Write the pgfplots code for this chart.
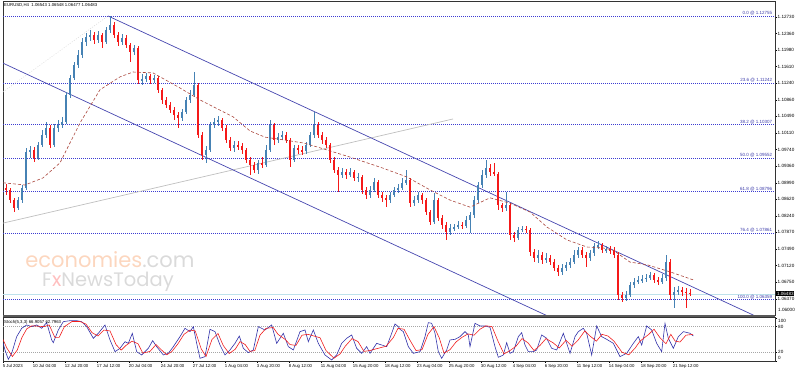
\documentclass[border=0pt]{standalone}
\usepackage{pgfplots}
\pgfplotsset{compat=1.18}
\usepackage{pgfplotstable}
\usepackage{fontspec}
\setmainfont{Liberation Sans}
\newfontfamily\wmfont{Poppins}
\definecolor{upc}{RGB}{70,130,180}
\definecolor{dnc}{RGB}{245,25,25}
\definecolor{chan}{RGB}{70,70,175}
\definecolor{fibc}{RGB}{60,60,210}
\definecolor{fibt}{RGB}{60,60,170}
\definecolor{mac}{RGB}{170,70,60}
\definecolor{bidc}{RGB}{190,225,235}
\definecolor{stk}{RGB}{50,50,170}
\definecolor{std}{RGB}{240,30,30}
\definecolor{wmo}{RGB}{252,214,190}
\definecolor{wmg}{RGB}{218,218,218}

\pgfplotstableread{
k o h l c
0 1.08985 1.09030 1.08783 1.08872
1 1.08872 1.08963 1.08715 1.08828
2 1.08828 1.08872 1.08534 1.08602
3 1.08602 1.08647 1.08331 1.08421
4 1.08421 1.08670 1.08376 1.08602
5 1.08602 1.08940 1.08534 1.08872
6 1.08872 1.09775 1.08828 1.09686
7 1.09686 1.09821 1.09550 1.09731
8 1.09731 1.09798 1.09460 1.09550
9 1.09550 1.09911 1.09505 1.09843
10 1.09843 1.10182 1.09798 1.10069
11 1.10069 1.10363 1.10001 1.10227
12 1.10227 1.10295 1.09775 1.09843
13 1.09843 1.10318 1.09798 1.10227
14 1.10227 1.10408 1.10137 1.10295
15 1.10295 1.10475 1.10227 1.10363
16 1.10363 1.11040 1.10318 1.10972
17 1.10972 1.11423 1.10904 1.11355
18 1.11355 1.11717 1.11310 1.11649
19 1.11649 1.11988 1.11581 1.11875
20 1.11875 1.12258 1.11807 1.12168
21 1.12168 1.12371 1.12078 1.12281
22 1.12281 1.12439 1.12190 1.12326
23 1.12326 1.12394 1.12123 1.12213
24 1.12213 1.12416 1.12145 1.12326
25 1.12326 1.12371 1.12032 1.12168
26 1.12168 1.12507 1.12123 1.12439
27 1.12439 1.12755 1.12371 1.12552
28 1.12552 1.12620 1.12258 1.12326
29 1.12326 1.12394 1.12078 1.12168
30 1.12168 1.12349 1.12100 1.12258
31 1.12258 1.12326 1.12032 1.12100
32 1.12100 1.12145 1.11717 1.11943
33 1.11943 1.12100 1.11875 1.12032
34 1.12032 1.12078 1.11220 1.11310
35 1.11310 1.11446 1.11197 1.11333
36 1.11333 1.11468 1.11265 1.11401
37 1.11401 1.11446 1.11220 1.11310
38 1.11310 1.11423 1.11242 1.11355
39 1.11355 1.11401 1.11017 1.11085
40 1.11085 1.11129 1.10769 1.10859
41 1.10859 1.10927 1.10678 1.10746
42 1.10746 1.10814 1.10565 1.10633
43 1.10633 1.10701 1.10408 1.10520
44 1.10520 1.10588 1.10227 1.10452
45 1.10452 1.10656 1.10385 1.10588
46 1.10588 1.10927 1.10543 1.10859
47 1.10859 1.11085 1.10791 1.10972
48 1.10972 1.11491 1.10927 1.11197
49 1.11197 1.11242 1.10001 1.10069
50 1.10069 1.10137 1.09505 1.09618
51 1.09618 1.09821 1.09437 1.09731
52 1.09731 1.10363 1.09686 1.10295
53 1.10295 1.10452 1.10227 1.10363
54 1.10363 1.10498 1.10273 1.10408
55 1.10408 1.10452 1.10159 1.10227
56 1.10227 1.10295 1.09888 1.09956
57 1.09956 1.10024 1.09708 1.09775
58 1.09775 1.09933 1.09686 1.09843
59 1.09843 1.09933 1.09731 1.09821
60 1.09821 1.09888 1.09641 1.09731
61 1.09731 1.09775 1.09437 1.09505
62 1.09505 1.09573 1.09166 1.09392
63 1.09392 1.09460 1.09211 1.09279
64 1.09279 1.09505 1.09189 1.09437
65 1.09437 1.09573 1.09324 1.09392
66 1.09392 1.09843 1.09347 1.09731
67 1.09731 1.10408 1.09686 1.10295
68 1.10295 1.10340 1.09843 1.09956
69 1.09956 1.10114 1.09888 1.10024
70 1.10024 1.10159 1.09956 1.10069
71 1.10069 1.10137 1.09888 1.09956
72 1.09956 1.10001 1.09347 1.09505
73 1.09505 1.09843 1.09460 1.09775
74 1.09775 1.09843 1.09641 1.09731
75 1.09731 1.09821 1.09618 1.09708
76 1.09708 1.09911 1.09641 1.09843
77 1.09843 1.10137 1.09798 1.10069
78 1.10069 1.10588 1.10001 1.10295
79 1.10295 1.10363 1.10001 1.10069
80 1.10069 1.10137 1.09866 1.09956
81 1.09956 1.10024 1.09775 1.09843
82 1.09843 1.09888 1.09437 1.09505
83 1.09505 1.09573 1.09211 1.09279
84 1.09279 1.09347 1.08783 1.09166
85 1.09166 1.09324 1.09098 1.09234
86 1.09234 1.09302 1.09076 1.09166
87 1.09166 1.09324 1.09121 1.09234
88 1.09234 1.09279 1.09030 1.09098
89 1.09098 1.09211 1.09008 1.09121
90 1.09121 1.09166 1.08738 1.08828
91 1.08828 1.08895 1.08625 1.08715
92 1.08715 1.08918 1.08647 1.08828
93 1.08828 1.09098 1.08783 1.09008
94 1.09008 1.09053 1.08647 1.08715
95 1.08715 1.08783 1.08557 1.08647
96 1.08647 1.08715 1.08444 1.08602
97 1.08602 1.08783 1.08534 1.08715
98 1.08715 1.08895 1.08670 1.08828
99 1.08828 1.08963 1.08760 1.08872
100 1.08872 1.09098 1.08828 1.08985
101 1.08985 1.09279 1.08940 1.09053
102 1.09053 1.09098 1.08444 1.08534
103 1.08534 1.08693 1.08467 1.08602
104 1.08602 1.08783 1.08534 1.08715
105 1.08715 1.08760 1.08512 1.08602
106 1.08602 1.08647 1.08263 1.08331
107 1.08331 1.08376 1.08038 1.08106
108 1.08106 1.08760 1.08061 1.08602
109 1.08602 1.08647 1.08128 1.08195
110 1.08195 1.08263 1.07948 1.08038
111 1.08038 1.08106 1.07699 1.07880
112 1.07880 1.08061 1.07812 1.07970
113 1.07970 1.08061 1.07902 1.07993
114 1.07993 1.08128 1.07948 1.08038
115 1.08038 1.08106 1.07948 1.08016
116 1.08016 1.08241 1.07970 1.08151
117 1.08151 1.08331 1.07857 1.08263
118 1.08263 1.08693 1.08195 1.08602
119 1.08602 1.09008 1.08534 1.08940
120 1.08940 1.09279 1.08872 1.09166
121 1.09166 1.09505 1.09098 1.09324
122 1.09324 1.09415 1.09144 1.09234
123 1.09234 1.09437 1.09144 1.09189
124 1.09189 1.09234 1.08376 1.08489
125 1.08489 1.08534 1.08331 1.08421
126 1.08421 1.08783 1.08353 1.08489
127 1.08489 1.08534 1.07699 1.07812
128 1.07812 1.07880 1.07654 1.07744
129 1.07744 1.07993 1.07699 1.07925
130 1.07925 1.08016 1.07880 1.07948
131 1.07948 1.08016 1.07857 1.07925
132 1.07925 1.07970 1.07339 1.07429
133 1.07429 1.07496 1.07203 1.07293
134 1.07293 1.07474 1.07180 1.07361
135 1.07361 1.07429 1.07158 1.07248
136 1.07248 1.07406 1.07180 1.07293
137 1.07293 1.07361 1.07135 1.07203
138 1.07203 1.07271 1.06999 1.07067
139 1.07067 1.07135 1.06887 1.06977
140 1.06977 1.07158 1.06909 1.07067
141 1.07067 1.07203 1.06999 1.07135
142 1.07135 1.07293 1.07067 1.07203
143 1.07203 1.07474 1.07158 1.07361
144 1.07361 1.07541 1.07293 1.07474
145 1.07474 1.07541 1.07293 1.07361
146 1.07361 1.07429 1.07090 1.07293
147 1.07293 1.07474 1.07225 1.07406
148 1.07406 1.07631 1.07339 1.07564
149 1.07564 1.07676 1.07496 1.07586
150 1.07586 1.07631 1.07406 1.07474
151 1.07474 1.07564 1.07406 1.07496
152 1.07496 1.07564 1.07384 1.07474
153 1.07474 1.07541 1.07293 1.07361
154 1.07361 1.07429 1.06345 1.06458
155 1.06458 1.06526 1.06300 1.06390
156 1.06390 1.06548 1.06322 1.06458
157 1.06458 1.06751 1.06413 1.06683
158 1.06683 1.06841 1.06615 1.06751
159 1.06751 1.06887 1.06706 1.06796
160 1.06796 1.06909 1.06728 1.06819
161 1.06819 1.06932 1.06751 1.06841
162 1.06841 1.06977 1.06796 1.06909
163 1.06909 1.06954 1.06728 1.06796
164 1.06796 1.06864 1.06683 1.06751
165 1.06751 1.06932 1.06706 1.06841
166 1.06841 1.07361 1.06773 1.07203
167 1.07203 1.07271 1.06345 1.06458
168 1.06458 1.06638 1.06164 1.06526
169 1.06526 1.06661 1.06458 1.06571
170 1.06571 1.06638 1.06436 1.06526
171 1.06526 1.06615 1.06164 1.06503
172 1.06503 1.06590 1.06440 1.06483
}\candles

\pgfplotsset{fibline/.style={draw=fibc, line width=0.45pt, dash pattern=on 0.45pt off 1.55pt, forget plot}}

\begin{document}
\begin{tikzpicture}
% watermark
\node[font=\wmfont\fontsize{21}{21}\selectfont, inner sep=0pt] at (110pt,112pt) {\textcolor{wmo}{economies}\textcolor{wmg}{.com}};
\node[font=\wmfont\fontsize{19.5}{19.5}\selectfont, inner sep=0pt, text=wmg] at (108pt,90pt) {F\textcolor{red!25}{x}NewsToday};

\begin{axis}[
  at={(3pt,57pt)}, anchor=south west, scale only axis,
  width=772pt, height=314pt,
  xmin=0.25, xmax=193.25, ymin=1.06006, ymax=1.13093,
  axis line style={black!80, line width=0.6pt},
  xtick=\empty,
  ytick={1.0637,1.0675,1.0712,1.0749,1.0787,1.0824,1.0862,1.0899,1.0936,1.0974,1.1011,1.1049,1.1086,1.1124,1.1161,1.1198,1.1236,1.1273},
  yticklabels={1.06370,1.06750,1.07120,1.07490,1.07870,1.08240,1.08620,1.08990,1.09360,1.09740,1.10110,1.10490,1.10860,1.11240,1.11610,1.11980,1.12360,1.12730},
  ytick pos=right, yticklabel pos=right, tick align=outside,
  major tick length=2pt, tick style={black, line width=0.4pt},
  yticklabel style={font=\fontsize{4.6}{5}\selectfont, inner sep=0.5pt},
  /pgf/number format/assume math mode=true,
  clip=true, no markers,
]
% fibonacci levels
\addplot[fibline] coordinates {(0.25,1.12755) (193.25,1.12755)};
\addplot[fibline] coordinates {(0.25,1.11242) (193.25,1.11242)};
\addplot[fibline] coordinates {(0.25,1.10307) (193.25,1.10307)};
\addplot[fibline] coordinates {(0.25,1.09552) (193.25,1.09552)};
\addplot[fibline] coordinates {(0.25,1.08796) (193.25,1.08796)};
\addplot[fibline] coordinates {(0.25,1.07861) (193.25,1.07861)};
\addplot[fibline] coordinates {(0.25,1.06359) (193.25,1.06359)};
% bid line
\addplot[bidc, line width=0.7pt] coordinates {(0.25,1.06483) (193.25,1.06483)};
% fib base line
\addplot[black!15, line width=0.5pt, dash pattern=on 1pt off 1.5pt] coordinates {(0.25,1.11040) (26.5,1.12755)};
% grey trend line
\addplot[black!25, line width=0.7pt] coordinates {(0.25,1.0808) (112.75,1.1043)};
% channel
\addplot[chan, line width=0.7pt] coordinates {(26.5,1.12755) (188.4,1.0598)};
\addplot[chan, line width=0.7pt] coordinates {(0.25,1.1169) (136.5,1.0598)};
% candles: wicks and bodies
\addplot[draw=none, restrict expr to domain={\thisrow{c}-\thisrow{o}}{0:1},
  error bars/.cd, y dir=both, y explicit, error mark=none,
  error bar style={draw=upc, solid, line width=0.6pt}]
  table[x=k, y expr={(\thisrow{h}+\thisrow{l})/2}, y error expr={(\thisrow{h}-\thisrow{l})/2}] {\candles};
\addplot[draw=none, restrict expr to domain={\thisrow{c}-\thisrow{o}}{0:1},
  error bars/.cd, y dir=both, y explicit, error mark=none,
  error bar style={draw=upc, solid, line width=1.7pt}]
  table[x=k, y expr={(\thisrow{o}+\thisrow{c})/2}, y error expr={(\thisrow{c}-\thisrow{o})/2}] {\candles};
\addplot[draw=none, restrict expr to domain={\thisrow{c}-\thisrow{o}}{-1:-0.000001},
  error bars/.cd, y dir=both, y explicit, error mark=none,
  error bar style={draw=dnc, solid, line width=0.6pt}]
  table[x=k, y expr={(\thisrow{h}+\thisrow{l})/2}, y error expr={(\thisrow{h}-\thisrow{l})/2}] {\candles};
\addplot[draw=none, restrict expr to domain={\thisrow{c}-\thisrow{o}}{-1:-0.000001},
  error bars/.cd, y dir=both, y explicit, error mark=none,
  error bar style={draw=dnc, solid, line width=1.7pt}]
  table[x=k, y expr={(\thisrow{o}+\thisrow{c})/2}, y error expr={(\thisrow{o}-\thisrow{c})/2}] {\candles};
% moving average
\addplot[mac, line width=0.6pt, dash pattern=on 3pt off 2pt] coordinates {
(0.25,1.0899) (5.75,1.0894) (10.25,1.0910) (14.5,1.0944) (19.5,1.1034) (24.5,1.1109)
(29.5,1.1138) (32.75,1.1149) (37.75,1.1147) (44.5,1.1113) (49.5,1.1086) (57.75,1.1048)
(62,1.1016) (65.75,1.1002) (70.25,1.0996) (75.25,1.0989) (78.75,1.0980) (87,1.0957)
(95.25,1.0932) (101.25,1.0912) (107,1.0883) (112,1.0860) (117,1.0844) (122,1.0865)
(127,1.0853) (132,1.0833) (136.25,1.0799) (141.25,1.0770) (146.25,1.0754) (150.25,1.0752)
(152.75,1.0747) (157,1.0720) (161.25,1.0714) (167,1.0698) (172.75,1.0680)};
% fib labels
\node[anchor=base east, inner sep=0pt, yshift=1.3pt, text=fibt, font=\fontsize{4.5}{5}\selectfont] at (axis cs:192.6,1.12755) {0.0 @ 1.12755};
\node[anchor=base east, inner sep=0pt, yshift=1.3pt, text=fibt, font=\fontsize{4.5}{5}\selectfont] at (axis cs:192.6,1.11242) {23.6 @ 1.11242};
\node[anchor=base east, inner sep=0pt, yshift=1.3pt, text=fibt, font=\fontsize{4.5}{5}\selectfont] at (axis cs:192.6,1.10307) {38.2 @ 1.10307};
\node[anchor=base east, inner sep=0pt, yshift=1.3pt, text=fibt, font=\fontsize{4.5}{5}\selectfont] at (axis cs:192.6,1.09552) {50.0 @ 1.09552};
\node[anchor=base east, inner sep=0pt, yshift=1.3pt, text=fibt, font=\fontsize{4.5}{5}\selectfont] at (axis cs:192.6,1.08796) {61.8 @ 1.08796};
\node[anchor=base east, inner sep=0pt, yshift=1.3pt, text=fibt, font=\fontsize{4.5}{5}\selectfont] at (axis cs:192.6,1.07861) {76.4 @ 1.07861};
\node[anchor=base east, inner sep=0pt, yshift=1.3pt, text=fibt, font=\fontsize{4.5}{5}\selectfont] at (axis cs:192.6,1.06359) {100.0 @ 1.06359};
\end{axis}

\begin{axis}[
  at={(3pt,11pt)}, anchor=south west, scale only axis,
  width=772pt, height=44pt,
  xmin=0.25, xmax=193.25, ymin=-0.5, ymax=102.6,
  axis line style={black!80, line width=0.6pt},
  xtick={0.25,7.75,15.75,23.75,31.75,39.75,47.75,55.75,63.75,71.75,79.75,87.75,95.75,103.75,111.75,119.75,127.75,135.75,143.75,151.75,159.75,167.75},
  xticklabels={5 Jul 2023,10 Jul 04:00,12 Jul 20:00,17 Jul 12:00,20 Jul 04:00,24 Jul 20:00,27 Jul 12:00,1 Aug 04:00,3 Aug 20:00,8 Aug 12:00,11 Aug 04:00,15 Aug 20:00,18 Aug 12:00,23 Aug 04:00,25 Aug 20:00,30 Aug 12:00,4 Sep 04:00,6 Sep 20:00,11 Sep 12:00,14 Sep 04:00,18 Sep 20:00,21 Sep 12:00},
  xtick pos=bottom, xticklabel style={font=\fontsize{4.3}{5}\selectfont, anchor=north west, inner sep=0pt, yshift=-1.5pt, xshift=-0.3pt},
  ytick={0,20,80,100}, yticklabels={,,,}, ytick pos=right,
  tick align=outside, major tick length=2pt, tick style={black, line width=0.4pt},
  /pgf/number format/assume math mode=true,
  clip=true, no markers,
]
\addplot[black!35, line width=0.4pt, dash pattern=on 1pt off 1pt] coordinates {(0.25,80) (193.25,80)};
\addplot[black!35, line width=0.4pt, dash pattern=on 1pt off 1pt] coordinates {(0.25,20) (193.25,20)};
\addplot[stk, line width=0.6pt] coordinates {
(0.25,42.5) (0.75,25.3) (1.58,3.4) (2.42,17.5) (3.67,56.6) (4.92,76.1) (6.17,83.9) (7.42,80) (8.67,83.9) (9.92,76.1) (11.17,89.4) (12.42,48.8) (12.83,42.5) (14.08,72.2) (15.33,91.7) (17,94) (18.67,94) (19.92,91.7) (21.17,80) (22.83,52.7) (24.08,64.4) (25.75,83.9) (27,48.8) (28.25,21.4) (29.5,29.2) (30.75,44.8) (31.58,40.9) (32.58,64.4) (33.67,21.4) (34.92,13.6) (36.58,29.2) (37.67,47.2) (38.67,33.1) (40.33,13.6) (41.58,17.5) (42.83,33.1) (44.5,56.6) (45.75,76.1) (47,68.3) (47.83,80) (48.67,40.9) (49.5,5.8) (50.75,9.7) (52,73.8) (53.25,68.3) (54.5,37) (55.75,13.6) (57,25.3) (58.25,40.9) (59.33,58.1) (60.33,29.2) (61.58,19.1) (62.83,25.3) (64.08,80) (65.75,72.2) (67.42,83.9) (68.67,40.9) (70.33,64.4) (71.58,33.1) (72.83,25.3) (74.5,68.3) (75.75,72.2) (76.58,44.8) (77.83,72.2) (79.08,40.9) (80.75,13.6) (82.42,1.9) (83.67,13.6) (84.92,40.9) (86.17,52.7) (87.42,60.5) (88.67,29.2) (89.92,17.5) (91.17,33.1) (92,17.5) (93.67,40.9) (96.17,33.1) (97.42,64.4) (98.25,86.3) (99.08,80) (99.5,73.8) (100.33,68.3) (101.58,33.1) (102.83,17.5) (104.5,21.4) (105.75,56.6) (106.58,89.4) (107.42,87.8) (108.25,64.4) (109.08,21.4) (109.92,5.8) (111.17,25.3) (112,48.8) (113.25,50.3) (114.5,56.6) (115.75,68.3) (116.58,60.5) (117,33.1) (118.25,87.8) (119.5,81.6) (120.75,81.6) (122,78.4) (123.25,33.1) (124.08,8.1) (125.33,13.6) (126.17,42.5) (127,17.5) (127.83,21.4) (129.08,56.6) (129.92,65.9) (130.75,37) (131.58,21.4) (132.83,21.4) (133.67,25.3) (134.92,60.5) (136.17,52.7) (137.42,29.2) (138.67,25.3) (140.33,64.4) (141.17,40.9) (142,17.5) (143.25,56.6) (144.08,68.3) (145.33,76.1) (146.17,64.4) (147.42,13.6) (148.67,81.6) (149.92,56.6) (151.17,50.3) (152.83,40.9) (154.5,9.7) (156.17,17.5) (157.83,40.9) (159.08,56.6) (159.92,37) (161.17,81.6) (162.42,72.2) (163.67,40.9) (164.92,21.4) (165.75,87.8) (166.58,52.7) (167.83,29.2) (169.08,56.6) (170.33,68.3) (172,64.4) (172.83,58.1)};
\addplot[std, line width=0.6pt] coordinates {
(0.25,50) (1.2,30) (2.6,10) (3.8,25) (5,55) (6.2,75) (7.5,82) (9,81) (10.5,80) (11.8,84) (13.2,55) (14.3,55) (15.6,80) (17.5,92) (19.5,92) (21,86) (22.5,66) (24,58) (25.5,72) (27,70) (28.5,38) (29.8,25) (31,36) (32.5,46) (34,40) (35.2,18) (37,22) (38.5,38) (39.8,26) (41.2,14) (42.5,22) (44,40) (45.5,62) (47,72) (48.3,70) (49.8,28) (51,10) (52.5,50) (54,64) (55.3,36) (56.8,17) (58.3,27) (59.5,45) (60.8,38) (62,22) (63.2,24) (64.5,60) (66,76) (67.8,78) (69,62) (70.8,50) (72,38) (73.5,36) (75,60) (76.5,62) (78,58) (79.5,54) (81,24) (83,6) (84.5,16) (85.8,34) (87.5,52) (89,45) (90.5,22) (92,24) (93.5,28) (96,34) (97.8,54) (99,76) (100.5,74) (102,48) (103.5,24) (105,26) (106.5,62) (108,80) (109.3,54) (110.5,18) (112,26) (113.5,44) (115,55) (116.5,63) (118,60) (119.5,74) (121,82) (122.5,80) (124,46) (125.5,16) (127,24) (128.5,34) (130,52) (131.5,42) (133,24) (134.5,36) (136,52) (137.8,42) (139.3,30) (141,48) (142.5,34) (144,48) (145.7,70) (147,58) (148.6,46) (150,62) (151.5,58) (153,46) (155,20) (156.7,14) (158.3,30) (159.5,46) (161.7,62) (163,74) (164.5,54) (166,40) (167.2,62) (168.3,46) (169.5,44) (171,60) (172.8,62)};
\end{axis}

% separator between panels
\fill[black!65] (3pt,55pt) rectangle (775pt,57.3pt);
% header texts
\node[anchor=west, inner sep=0pt, font=\fontsize{4.3}{5}\selectfont] at (4pt,366.5pt) {EURUSD,H4\ \ 1.06543 1.06548 1.06477 1.06483};
\node[anchor=west, inner sep=0pt, font=\fontsize{4.3}{5}\selectfont] at (4pt,50pt) {Stoch(5,3,3) 66.9057 62.7963};
% stoch axis labels
\node[anchor=west, inner sep=0pt, font=\fontsize{4.6}{5}\selectfont] at (778pt,51.3pt) {100};
\node[anchor=west, inner sep=0pt, font=\fontsize{4.6}{5}\selectfont] at (778pt,45.3pt) {80};
\node[anchor=west, inner sep=0pt, font=\fontsize{4.6}{5}\selectfont] at (778pt,19.7pt) {20};
\node[anchor=west, inner sep=0pt, font=\fontsize{4.6}{5}\selectfont] at (778pt,14.3pt) {0};
% lowest price label and current price box
\node[anchor=west, inner sep=0.5pt, font=\fontsize{4.6}{5}\selectfont] at (777.5pt,62pt) {1.06000};
\node[anchor=west, fill=black, text=white, inner sep=0.8pt, font=\fontsize{4.6}{5}\selectfont] at (776pt,78.1pt) {1.06483};
\pgfresetboundingbox
\path[use as bounding box] (0pt,0pt) rectangle (798pt,372pt);
\end{tikzpicture}
\end{document}
